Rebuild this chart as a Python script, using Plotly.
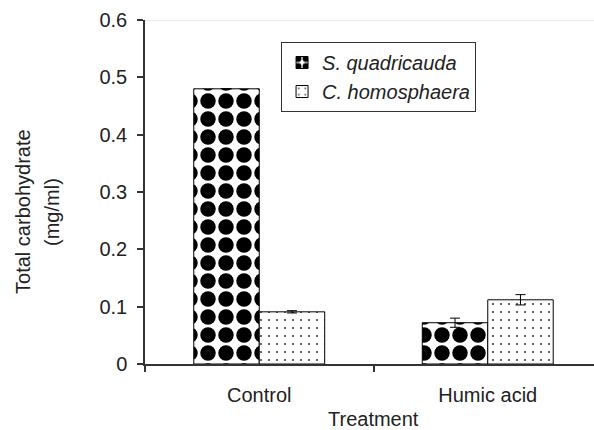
import plotly.graph_objects as go

categories = ["Control", "Humic acid"]
series_names = ["S. quadricauda", "C. homosphaera"]
s_quad = [0.48, 0.072]
s_quad_err = [0.0, 0.008]
c_homo = [0.091, 0.112]
c_homo_err = [0.002, 0.009]
y_ticks = [0, 0.1, 0.2, 0.3, 0.4, 0.5, 0.6]
y_tick_labels = ["0", "0.1", "0.2", "0.3", "0.4", "0.5", "0.6"]

FONT = "Liberation Sans, Arial, Helvetica, sans-serif"
AXC = "#333333"

fig = go.Figure()
fig.add_trace(go.Bar(
    name=series_names[0], x=categories, y=s_quad,
    error_y=dict(type="data", array=s_quad_err, color="black", thickness=1, width=5),
    marker=dict(color="white", line=dict(color="black", width=1),
                pattern=dict(shape=".", fgcolor="black", bgcolor="white",
                             size=18, solidity=0.58, fillmode="replace")),
))
fig.add_trace(go.Bar(
    name=series_names[1], x=categories, y=c_homo,
    error_y=dict(type="data", array=c_homo_err, color="black", thickness=1, width=5),
    marker=dict(color="white", line=dict(color="black", width=1),
                pattern=dict(shape=".", fgcolor="#444444", bgcolor="white",
                             size=8, solidity=0.06, fillmode="replace")),
))

fig.update_layout(
    width=594, height=430,
    margin=dict(l=145, r=0, t=20, b=66),
    paper_bgcolor="white", plot_bgcolor="white",
    barmode="group", bargap=0.427, bargroupgap=0,
    font=dict(family=FONT, size=20, color="#222222"),
    showlegend=True,
    legend=dict(x=0.303, y=0.936, xanchor="left", yanchor="top",
                bgcolor="white", bordercolor=AXC, borderwidth=1,
                font=dict(family=FONT, size=20, style="italic"),
                traceorder="normal", itemwidth=30),
    xaxis=dict(range=[-0.5, 1.465], showline=True, linecolor=AXC, linewidth=1.5,
               ticks="outside", tickson="boundaries", ticklen=6, tickcolor=AXC,
               tickwidth=1.5, showgrid=False, zeroline=False,
               ticklabelstandoff=12, tickfont=dict(size=20)),
    yaxis=dict(range=[0, 0.6], tickvals=y_ticks, ticktext=y_tick_labels,
               showline=True, linecolor=AXC, linewidth=1.5,
               ticks="outside", ticklen=6, tickcolor=AXC, tickwidth=1.5,
               showgrid=False, zeroline=False, ticklabelstandoff=6,
               tickfont=dict(size=20)),
    shapes=[dict(type="line", xref="paper", yref="y", x0=0, x1=1, y0=0.6, y1=0.6,
                 line=dict(color="#d6d6d6", width=1), layer="below")],
    annotations=[
        dict(text="Treatment", xref="x", yref="paper", x=0.5, y=-0.16,
             xanchor="center", yanchor="middle", showarrow=False,
             font=dict(size=20)),
        dict(text="Total carbohydrate", xref="paper", yref="paper", x=0, y=0.442,
             xshift=-122, textangle=-90, xanchor="center", yanchor="middle",
             showarrow=False, font=dict(size=20)),
        dict(text="(mg/ml)", xref="paper", yref="paper", x=0, y=0.442,
             xshift=-93, textangle=-90, xanchor="center", yanchor="middle",
             showarrow=False, font=dict(size=20)),
    ],
)

fig.write_html("out.html", config={"displayModeBar": False},
               post_script="document.body.style.margin='0';document.body.style.padding='0';")
